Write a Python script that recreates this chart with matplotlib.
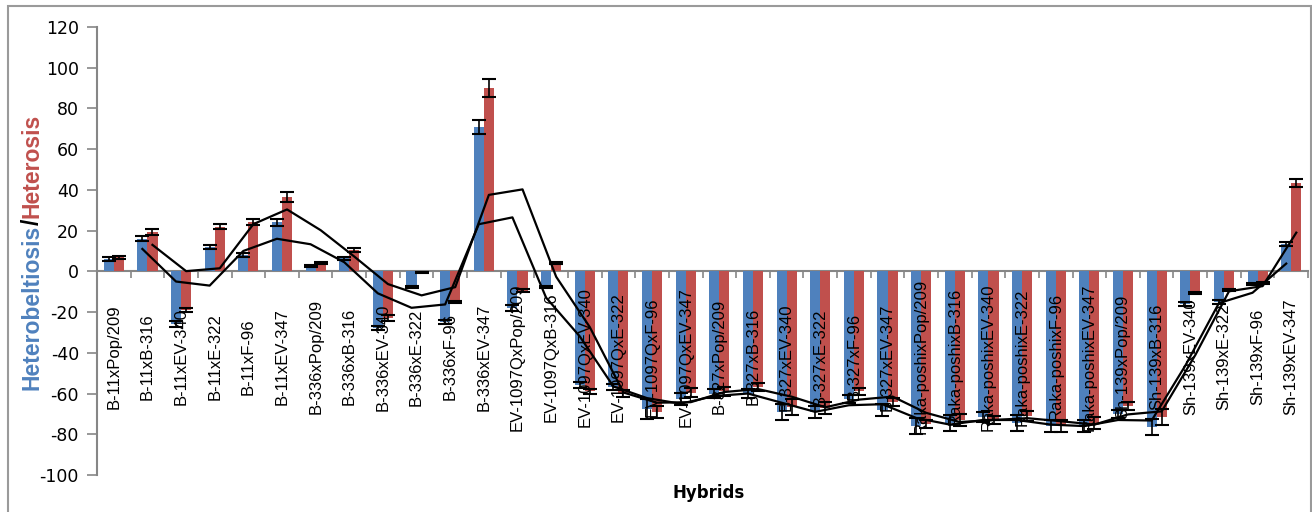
import matplotlib
matplotlib.use("Agg")
import matplotlib.pyplot as plt
import numpy as np
import pandas as pd
from matplotlib.patches import Rectangle

plt.rcParams["axes.unicode_minus"] = False

hybrids = [
    "B-11xPop/209", "B-11xB-316", "B-11xEV-340", "B-11xE-322", "B-11xF-96", "B-11xEV-347",
    "B-336xPop/209", "B-336xB-316", "B-336xEV-340", "B-336xE-322", "B-336xF-96", "B-336xEV-347",
    "EV-1097QxPop/209", "EV-1097QxB-316", "EV-1097QxEV-340", "EV-1097QxE-322", "EV-1097QxF-96", "EV-1097QxEV-347",
    "B-327xPop/209", "B-327xB-316", "B-327xEV-340", "B-327xE-322", "B-327xF-96", "B-327xEV-347",
    "Raka-poshixPop/209", "Raka-poshixB-316", "Raka-poshixEV-340", "Raka-poshixE-322", "Raka-poshixF-96", "Raka-poshixEV-347",
    "Sh-139xPop/209", "Sh-139xB-316", "Sh-139xEV-340", "Sh-139xE-322", "Sh-139xF-96", "Sh-139xEV-347",
]
heterobeltiosis = [
    6, 16, -26, 12, 8, 24,
    2.6, 6.4, -28, -7.8, -24.7, 71,
    -18, -7.8, -56, -57, -67.5, -62.5,
    -60, -60, -69, -69, -62.5, -68,
    -76, -74.5, -71.5, -74.5, -76, -76,
    -70, -76.5, -16.2, -15, -6, 13.6,
]
heterosis = [
    6.8, 19.2, -19, 22, 24.4, 36.4,
    4, 10.5, -23, -0.6, -14.9, 90,
    -9.5, 4.2, -59, -60, -69, -59.5,
    -59, -56.6, -66.5, -67, -59, -64,
    -75, -73, -73, -71.2, -76, -74.5,
    -66, -71.5, -10.6, -9, -5.5, 43.5,
]
err_hb = [
    0.8, 1.2, 1.5, 1.0, 0.8, 1.5,
    0.5, 0.8, 1.0, 0.5, 1.0, 3.5,
    1.5, 0.5, 1.5, 1.5, 5.0, 3.0,
    2.0, 2.0, 4.0, 3.0, 2.0, 3.0,
    4.0, 4.0, 2.5, 4.0, 3.0, 3.0,
    2.0, 4.0, 1.0, 1.0, 0.5, 1.0,
]
err_h = [
    0.8, 1.5, 1.0, 1.2, 1.5, 2.5,
    0.5, 1.2, 1.5, 0.3, 0.5, 4.5,
    0.8, 0.5, 1.0, 1.5, 3.0, 2.0,
    2.0, 2.0, 4.0, 3.0, 1.5, 2.0,
    2.0, 3.0, 2.0, 2.5, 3.0, 3.0,
    2.0, 4.0, 0.5, 0.5, 0.5, 2.0,
]

BLUE = "#4F81BD"
RED = "#C0504D"
AXIS_GRAY = "#868686"

fig = plt.figure(figsize=(13.12, 5.12), dpi=100)
ax = fig.add_axes([0.0739, 0.0723, 0.9231, 0.8750])

x = np.arange(len(hybrids))
w = 0.3
xb = x - w / 2
xr = x + w / 2
ax.bar(xb, heterobeltiosis, w, color=BLUE, zorder=2)
ax.bar(xr, heterosis, w, color=RED, zorder=2)
ax.errorbar(xb, heterobeltiosis, yerr=err_hb, fmt="none", ecolor="black",
            elinewidth=1.2, capsize=5, capthick=1.5, zorder=3)
ax.errorbar(xr, heterosis, yerr=err_h, fmt="none", ecolor="black",
            elinewidth=1.2, capsize=5, capthick=1.5, zorder=3)

# 2-period moving average trendlines
ma_hb = pd.Series(heterobeltiosis).rolling(2).mean()
ma_h = pd.Series(heterosis).rolling(2).mean()
ax.plot(xb[1:], ma_hb[1:], color="black", lw=1.6, zorder=4)
ax.plot(xr[1:], ma_h[1:], color="black", lw=1.6, zorder=4)

ax.set_xlim(-0.5, len(hybrids) - 0.5)
ax.set_ylim(-100, 120)
ax.set_yticks(range(-100, 121, 20))
ax.set_xticks(np.arange(len(hybrids) + 1) - 0.5)
ax.set_xticklabels([])

for s in ["top", "right"]:
    ax.spines[s].set_visible(False)
ax.spines["bottom"].set_position(("data", 0))
for s in ["left", "bottom"]:
    ax.spines[s].set_color(AXIS_GRAY)
    ax.spines[s].set_linewidth(1.5)
ax.spines["bottom"].set_zorder(1)
ax.tick_params(axis="y", direction="out", length=7, width=1.2, color=AXIS_GRAY,
               labelsize=12.5, pad=6)
ax.tick_params(axis="x", direction="out", length=5, width=1.2, color=AXIS_GRAY)
for lab in ax.get_yticklabels():
    lab.set_fontfamily("DejaVu Sans")

for xi, name in zip(x, hybrids):
    ax.text(xi, -42, name, rotation=90, ha="center", va="center", fontsize=12,
            family="Liberation Sans", zorder=5)

fig.text(0.54, 0.037, "Hybrids", ha="center", va="center", fontsize=12,
         fontweight="bold", family="DejaVu Sans")

# multi-coloured y label
renderer = fig.canvas.get_renderer()
ylab_x = 32 / 1312
y0 = 1 - 390 / 512
for part, col in [("Heterobeltiosis", BLUE), ("/", "black"), ("Heterosis", RED)]:
    t = fig.text(ylab_x, y0, part, rotation=90, ha="center", va="bottom",
                 fontsize=16.5, fontweight="bold", color=col,
                 family="Liberation Sans")
    bb = t.get_window_extent(renderer)
    y0 = bb.y1 / fig.bbox.height

fig.patches.append(Rectangle((8 / 1312, -0.1), 1303 / 1312, 1.1 - 6 / 512,
                             transform=fig.transFigure, fill=False,
                             edgecolor="#9a9a9a", lw=1.5))

fig.savefig("out.png", dpi=100)
